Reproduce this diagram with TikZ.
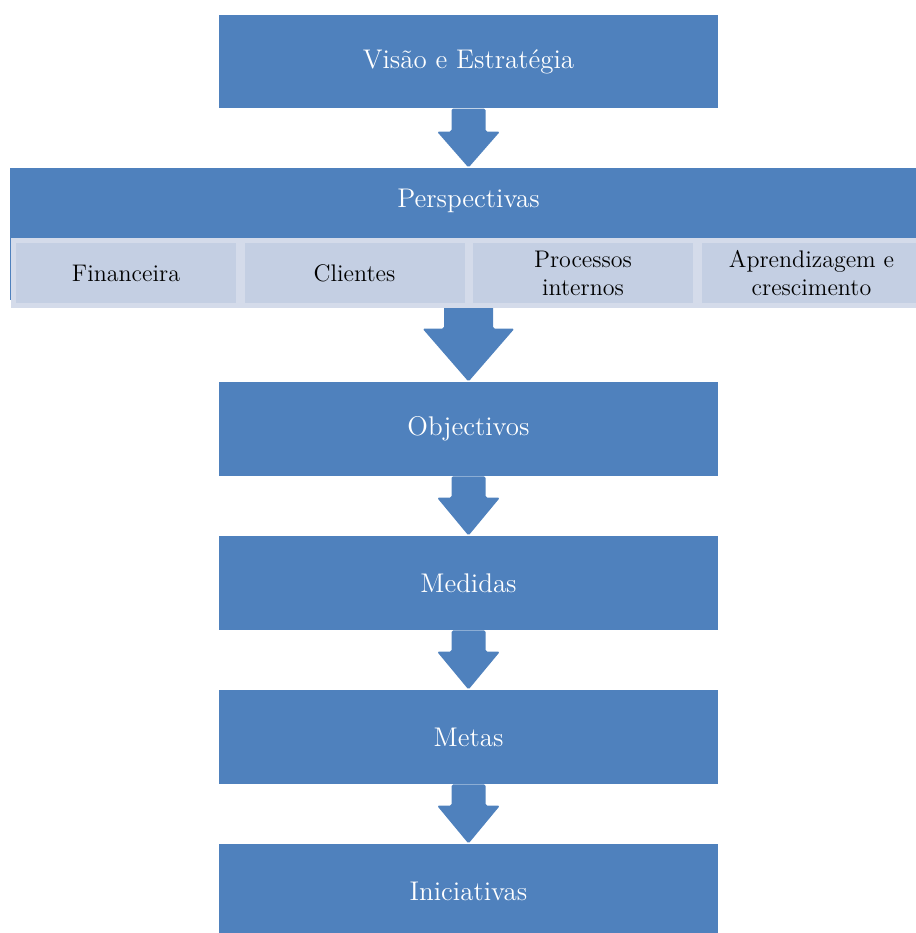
\documentclass[tikz,border=0pt]{standalone}
\usepackage{tikz}
\usetikzlibrary{calc}

\definecolor{caixaazul}{HTML}{4F81BD}
\definecolor{caixaclara}{HTML}{C4CFE3}
\definecolor{bordaclara}{HTML}{D4DBEA}

\tikzset{
    texto branco/.style={text=white, inner sep=0pt, font=\fontsize{13.5}{16}\selectfont},
    caixa/.style={texto branco, fill=caixaazul, minimum width=249.5pt, minimum height=47pt},
    faixa/.style={fill=caixaazul, minimum width=458.5pt, minimum height=66pt, inner sep=0pt},
    perspectiva/.style={fill=caixaclara, draw=bordaclara, line width=2.5pt, text=black,
        minimum width=112.5pt, minimum height=32.5pt, inner sep=0pt, align=center,
        font=\fontsize{12}{14}\selectfont},
    seta/.style={fill=caixaazul, rounded corners=0.8pt}
}

% block arrow: from, to, shaft half width, head half width, head length
\newcommand{\setabloco}[5]{%
    \fill[seta] ($(#1.south)+(-#3,0)$) -- ($(#2.north)+(-#3,#5)$) -- ($(#2.north)+(-#4,#5)$)
        -- (#2.north) -- ($(#2.north)+(#4,#5)$) -- ($(#2.north)+(#3,#5)$)
        -- ($(#1.south)+(#3,0)$) -- cycle;}

\begin{document}
\begin{tikzpicture}[x=0.5pt, y=0.5pt]
    \useasboundingbox (0,0) rectangle (916,933);
    % Boxes
    \node[caixa, minimum height=46.5pt] (visao) at (468.5,871.25) {Visão e Estratégia};
    \node[faixa] (faixa) at (468.5,699) {};
    \node[texto branco] (titulo) at ($(faixa.north)+(0,-33)$) {Perspectivas};
    \node[caixa] (objectivos) at (468.5,504) {Objectivos};
    \node[caixa] (medidas) at (468.5,350) {Medidas};
    \node[caixa] (metas) at (468.5,196) {Metas};
    \node[caixa] (iniciativas) at (468.5,42) {Iniciativas};
    % Arrows
    \setabloco{visao}{faixa}{17}{31.5}{36}
    \setabloco{faixa}{objectivos}{24.5}{46}{53}
    \foreach \a/\b in {objectivos/medidas, medidas/metas, metas/iniciativas}
        \setabloco{\a}{\b}{17}{31.5}{38};
    % Perspectives
    \foreach \nome/\texto [count=\i from 0] in {fin/Financeira, cli/Clientes,
        proc/{Processos\\internos}, apr/{Aprendizagem e\\crescimento}}
        \node[perspectiva] (\nome) at (126+228.5*\i,660) {\texto};
\end{tikzpicture}
\end{document}
